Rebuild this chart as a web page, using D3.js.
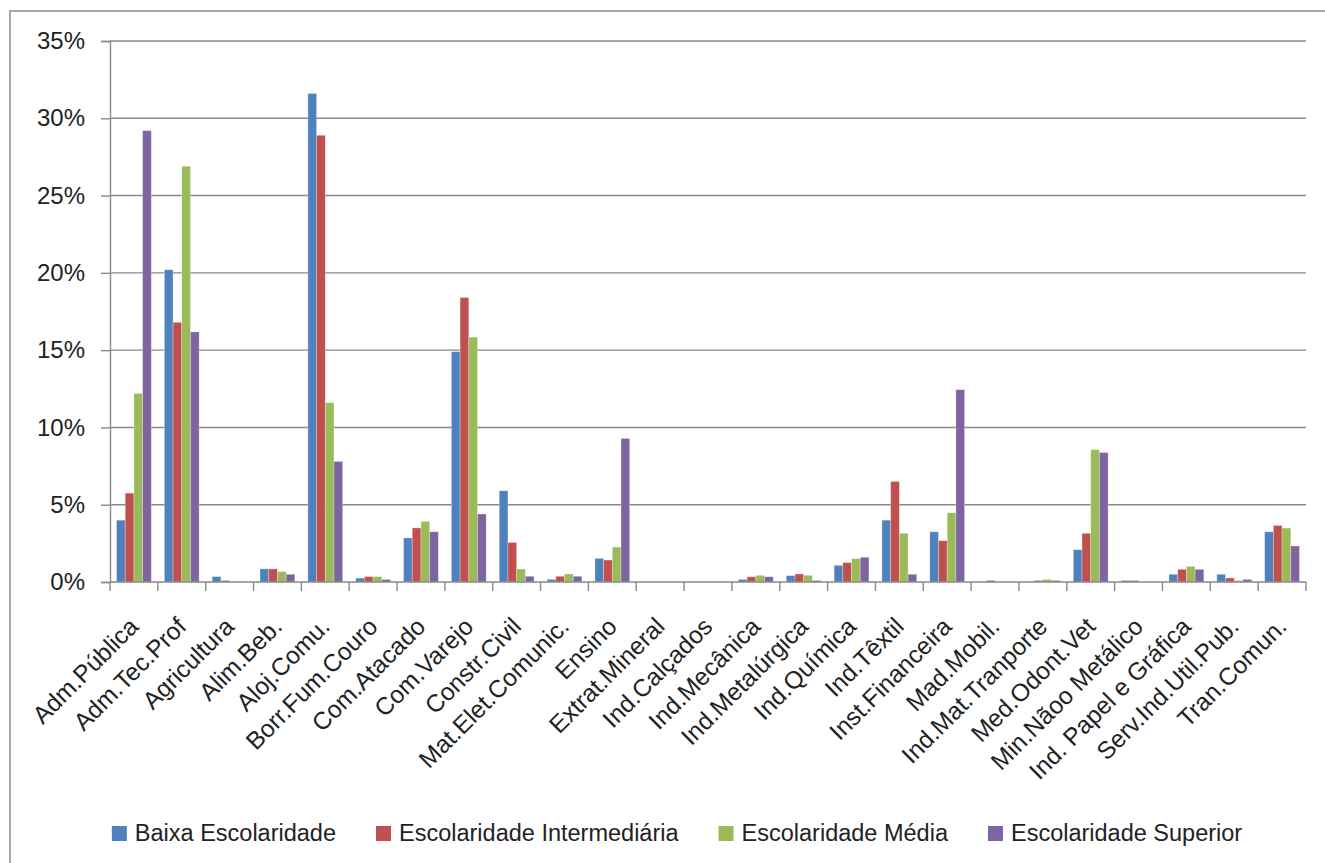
<!DOCTYPE html>
<html>
<head>
<meta charset="utf-8">
<script src="https://cdn.jsdelivr.net/npm/d3@7"></script>
<style>
  html, body { margin: 0; padding: 0; background: #ffffff; }
  svg { display: block; }
  text { font-family: "Liberation Sans", Arial, sans-serif; fill: #222; }
</style>
</head>
<body>
<svg id="chart" width="1325" height="863"></svg>
<script>
// Sector names along the x axis
const categories = [
  "Adm.Pública", "Adm.Tec.Prof", "Agricultura", "Alim.Beb.", "Aloj.Comu.",
  "Borr.Fum.Couro", "Com.Atacado", "Com.Varejo", "Constr.Civil", "Mat.Elet.Comunic.",
  "Ensino", "Extrat.Mineral", "Ind.Calçados", "Ind.Mecânica", "Ind.Metalúrgica",
  "Ind.Química", "Ind.Têxtil", "Inst.Financeira", "Mad.Mobil.", "Ind.Mat.Tranporte",
  "Med.Odont.Vet", "Min.Nãoo Metálico", "Ind. Papel e Gráfica", "Serv.Ind.Util.Pub.", "Tran.Comun."
];

// Share (%) of each schooling level per sector
const baixa = [4.0, 20.2, 0.35, 0.85, 31.6, 0.25, 2.85, 14.9, 5.9, 0.17, 1.53, 0, 0, 0.17, 0.41, 1.08, 4.0, 3.25, 0, 0, 2.09, 0.1, 0.5, 0.5, 3.25];
const intermediaria = [5.75, 16.8, 0.1, 0.85, 28.9, 0.35, 3.5, 18.4, 2.56, 0.37, 1.42, 0, 0, 0.34, 0.52, 1.25, 6.5, 2.67, 0.1, 0.1, 3.15, 0.1, 0.82, 0.26, 3.66];
const media = [12.2, 26.9, 0, 0.67, 11.6, 0.35, 3.92, 15.84, 0.84, 0.52, 2.26, 0, 0, 0.43, 0.43, 1.51, 3.15, 4.48, 0, 0.17, 8.56, 0, 1.01, 0.1, 3.49];
const superior = [29.2, 16.18, 0, 0.5, 7.8, 0.16, 3.25, 4.4, 0.37, 0.37, 9.29, 0, 0, 0.34, 0.1, 1.6, 0.5, 12.44, 0, 0.1, 8.38, 0, 0.82, 0.17, 2.33];

const seriesNames = ["Baixa Escolaridade", "Escolaridade Intermediária", "Escolaridade Média", "Escolaridade Superior"];
const seriesValues = [baixa, intermediaria, media, superior];
const seriesColors = ["#4F81BD", "#C0504D", "#9BBB59", "#8064A2"];

// Y axis ticks (%)
const yTicks = [0, 5, 10, 15, 20, 25, 30, 35];

const svg = d3.select("#chart");
const plot = { left: 110, right: 1306, top: 41, bottom: 582 };
const axisColor = "#888888";

// Outer chart frame
svg.append("rect")
  .attr("x", 10).attr("y", 11)
  .attr("width", 1340).attr("height", 880)
  .attr("fill", "none").attr("stroke", "#8c8c8c").attr("stroke-width", 1.5);

const x0 = d3.scaleBand()
  .domain(categories)
  .range([plot.left, plot.right])
  .paddingInner(1.5 / 5.5)
  .paddingOuter(0.75 / 5.5);

const x1 = d3.scaleBand()
  .domain(d3.range(seriesNames.length))
  .range([0, x0.bandwidth()]);

const y = d3.scaleLinear().domain([0, 35]).range([plot.bottom, plot.top]);

// Horizontal gridlines
svg.append("g")
  .selectAll("line")
  .data(yTicks.filter(t => t > 0))
  .join("line")
  .attr("x1", plot.left).attr("x2", plot.right)
  .attr("y1", d => y(d)).attr("y2", d => y(d))
  .attr("stroke", axisColor).attr("stroke-width", 1.4);

// Y axis
const yAxis = svg.append("g")
  .attr("transform", `translate(${plot.left},0)`)
  .call(d3.axisLeft(y).tickValues(yTicks).tickFormat(d => d + "%").tickSize(9).tickPadding(16));
yAxis.select(".domain").attr("stroke", axisColor).attr("stroke-width", 1.4);
yAxis.selectAll(".tick line").attr("stroke", axisColor).attr("stroke-width", 1.4);
yAxis.selectAll(".tick text")
  .attr("font-family", "Liberation Sans, Arial, sans-serif")
  .attr("font-size", 24).attr("fill", "#222");

// Bars
const groups = svg.append("g")
  .selectAll("g")
  .data(categories)
  .join("g")
  .attr("transform", d => `translate(${x0(d)},0)`);

groups.selectAll("rect")
  .data((d, i) => seriesValues.map((vals, s) => ({ s, v: vals[i] })))
  .join("rect")
  .attr("x", d => x1(d.s))
  .attr("width", x1.bandwidth())
  .attr("y", d => y(d.v))
  .attr("height", d => y(0) - y(d.v))
  .attr("fill", d => seriesColors[d.s])
  .attr("stroke", "rgba(255,255,255,0.35)")
  .attr("stroke-width", 0.8);

// X axis line and category boundary ticks
const step = (plot.right - plot.left) / categories.length;
svg.append("line")
  .attr("x1", plot.left).attr("x2", plot.right)
  .attr("y1", plot.bottom).attr("y2", plot.bottom)
  .attr("stroke", axisColor).attr("stroke-width", 1.4);
svg.append("g")
  .selectAll("line")
  .data(d3.range(categories.length + 1))
  .join("line")
  .attr("x1", i => plot.left + i * step).attr("x2", i => plot.left + i * step)
  .attr("y1", plot.bottom).attr("y2", plot.bottom + 9)
  .attr("stroke", axisColor).attr("stroke-width", 1.4);

// Rotated category labels
svg.append("g")
  .selectAll("text")
  .data(categories)
  .join("text")
  .attr("transform", d => `translate(${x0(d) + x0.bandwidth() / 2 + 6},${plot.bottom + 46}) rotate(-45)`)
  .attr("text-anchor", "end")
  .attr("font-size", 24.5)
  .text(d => d);

// Legend
const legend = svg.append("g");
const items = legend.selectAll("g")
  .data(seriesNames)
  .join("g");
items.append("rect")
  .attr("width", 15).attr("height", 15)
  .attr("y", 826)
  .attr("fill", (d, i) => seriesColors[i]);
items.append("text")
  .attr("x", 23).attr("y", 841)
  .attr("font-size", 23.5)
  .text(d => d);

const gap = 40;
let cursor = 0;
const offsets = [];
items.each(function () {
  offsets.push(cursor);
  const w = this.querySelector("text").getComputedTextLength();
  cursor += 23 + w + gap;
});
const total = cursor - gap;
const startX = 677 - total / 2;
items.attr("transform", (d, i) => `translate(${startX + offsets[i]},0)`);
</script>
</body>
</html>
